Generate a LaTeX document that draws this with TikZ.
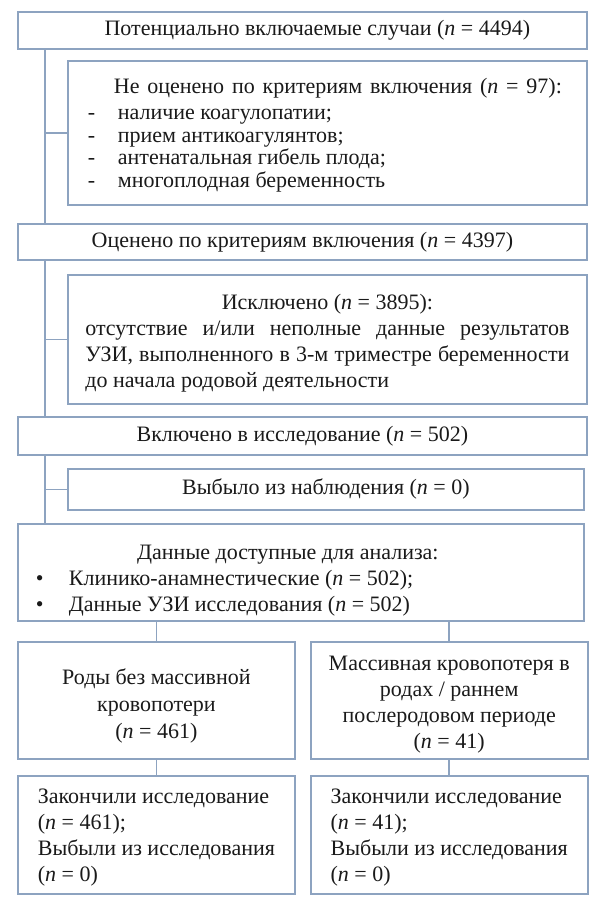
\documentclass[tikz,border=0pt]{standalone}
\usepackage{fontspec}
\setmainfont{Liberation Serif}
\usetikzlibrary{positioning}
\definecolor{boxline}{HTML}{8DA3C0}
\definecolor{ink}{HTML}{1A1A1A}
\newcommand{\nn}{\textit{n}}

\begin{document}
\begin{tikzpicture}[
    x=0.5pt, y=-0.5pt,
    box/.style={draw=boxline, line width=0.9pt, fill=white, anchor=north west,
      inner sep=0pt, text=ink, font=\fontsize{11}{13}\selectfont,
      execute at begin node={\spaceskip=0pt\xspaceskip=0pt\relax}},
    wide/.style={box, minimum width=284.5pt},
    side/.style={box, minimum width=259.5pt},
    half/.style={box, minimum width=138.5pt, minimum height=58.5pt},
    link/.style={draw=boxline, line width=0.9pt}
  ]
  \useasboundingbox (0,0) rectangle (600,901);

  % main column
  \node[wide, minimum height=18.5pt] (pool) at (17,11)
    {\hspace*{15pt}Потенциально включаемые случаи (\nn{} = 4494)};
  \node[side, minimum height=72pt, text width=243.5pt, inner xsep=8pt, align=left,
      font=\fontsize{11}{11.3}\selectfont] (unassessed) at (67,60)
    {\makebox[\linewidth][c]{\hspace*{10.5pt}\rule{0pt}{10pt}\makebox[224pt][s]{Не оценено по критериям включения (\nn{} = 97):}}\\[1.5pt]
     \makebox[17pt][l]{\hspace{2pt}-}наличие коагулопатии;\\
     \makebox[17pt][l]{\hspace{2pt}-}прием антикоагулянтов;\\
     \makebox[17pt][l]{\hspace{2pt}-}антенатальная гибель плода;\\
     \makebox[17pt][l]{\hspace{2pt}-}многоплодная беременность};
  \node[wide, minimum height=18pt] (assessed) at (17,223)
    {Оценено по критериям включения (\nn{} = 4397)};
  \node[side, minimum height=64.5pt, text width=242pt, inner xsep=8.75pt, align=left] (excluded) at (67,274)
    {\makebox[\linewidth][c]{\rule{0pt}{11pt}Исключено (\nn{} = 3895):}\\
     \makebox[\linewidth][s]{отсутствие и/или неполные данные результатов}\\
     \makebox[\linewidth][s]{УЗИ, выполненного в 3-м триместре беременности}\\
     до начала родовой деятельности};
  \node[wide, minimum height=19pt] (included) at (17,416)
    {Включено в исследование (\nn{} = 502)};
  \node[side, minimum width=258pt, minimum height=20.5pt] (dropped) at (67,468)
    {Выбыло из наблюдения (\nn{} = 0)};
  \node[wide, minimum width=283pt, minimum height=48.5pt, text width=271pt, inner xsep=6pt,
      align=left] (available) at (17,523)
    {\makebox[\linewidth][c]{\hspace*{-13pt}\rule{0pt}{15.5pt}Данные доступные для анализа:}\\
     \makebox[19.5pt][l]{\hspace{3pt}•}Клинико-анамнестические (\nn{} = 502);\\
     \makebox[19.5pt][l]{\hspace{3pt}•}Данные УЗИ исследования (\nn{} = 502)};

  % two groups
  \node[half, align=center, font=\fontsize{11}{13.5}\selectfont] (nobleed) at (17,641)
    {\rule{0pt}{13pt}Роды без массивной\\ кровопотери\\ (\nn{} = 461)};
  \node[half, align=center, right=7pt of nobleed.north east, anchor=north west] (bleed)
    {\rule{0pt}{11pt}Массивная кровопотеря в\\ родах / раннем\\ послеродовом периоде\\ (\nn{} = 41)};
  \node[half, minimum height=59pt, align=left, font=\fontsize{11}{12.9}\selectfont,
      below=7.5pt of nobleed.south west, anchor=north west] (done1)
    {\rule{0pt}{10pt}Закончили исследование\\ (\nn{} = 461);\\ Выбыли из исследования\\ (\nn{} = 0)};
  \node[half, minimum height=59pt, align=left, font=\fontsize{11}{12.9}\selectfont,
      below=7.5pt of bleed.south west, anchor=north west] (done2)
    {\rule{0pt}{10pt}Закончили исследование\\ (\nn{} = 41);\\ Выбыли из исследования\\ (\nn{} = 0)};

  % connectors
  \coordinate (t1) at ([xshift=14pt]pool.south west);
  \coordinate (t2) at ([xshift=14pt]assessed.south west);
  \coordinate (t3) at ([xshift=14pt]included.south west);
  \draw[link] (t1) -- (t1 |- assessed.north);
  \draw[link] (unassessed.west) -- (unassessed.west -| t1);
  \draw[link] (t2) -- (t2 |- included.north);
  \draw[link] (excluded.west) -- (excluded.west -| t2);
  \draw[link] (t3) -- (t3 |- available.north);
  \draw[link] (dropped.west) -- (dropped.west -| t3);
  \draw[link] (available.south -| nobleed.north) -- (nobleed.north);
  \draw[link] (available.south -| bleed.north) -- (bleed.north);
  \draw[link] (nobleed.south) -- (done1.north);
  \draw[link] (bleed.south) -- (done2.north);
\end{tikzpicture}
\end{document}
